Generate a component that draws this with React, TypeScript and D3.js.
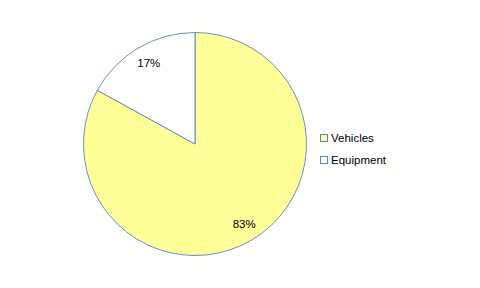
import React from "react";
import * as d3 from "d3";

const categories = ["Vehicles", "Equipment"];
const values = [83, 17];
const colors = ["#FFFF99", "#FFFFFF"];

export default function App() {
  const width = 480, height = 288;
  const cx = 195, cy = 144, r = 111.5;
  const pie = d3.pie<number>().sort(null).value((d) => d)(values);
  const arc = d3.arc<d3.PieArcDatum<number>>().innerRadius(0).outerRadius(r);
  const labelArc = d3.arc<d3.PieArcDatum<number>>().innerRadius(r * 0.84).outerRadius(r * 0.84);
  const total = d3.sum(values);
  const font = "'Liberation Sans', Arial, sans-serif";
  return (
    <svg width={width} height={height} style={{ position: "absolute", left: 0, top: 0 }}>
      <rect width={width} height={height} fill="#fff" />
      <g transform={`translate(${cx},${cy})`}>
        {pie.map((d, i) => (
          <path key={i} d={arc(d) || ""} fill={colors[i]} stroke="#5B85B5" strokeWidth={0.9} />
        ))}
        {pie.map((d, i) => {
          const [x, y] = labelArc.centroid(d);
          return (
            <text key={i} x={x + 1.5} y={y} dy="0.3em" textAnchor="middle" fontFamily={font} fontSize={11.5} fill="#000">
              {Math.round((d.data / total) * 100)}%
            </text>
          );
        })}
      </g>
      {categories.map((c, i) => (
        <g key={c} transform={`translate(320,${134 + i * 22})`}>
          <rect x={0.5} y={0.5} width={7} height={7} fill={colors[i]} stroke="#5B85B5" strokeWidth={1} />
          <text x={11} y={8} fontFamily={font} fontSize={11.5} fill="#000">{c}</text>
        </g>
      ))}
    </svg>
  );
}
